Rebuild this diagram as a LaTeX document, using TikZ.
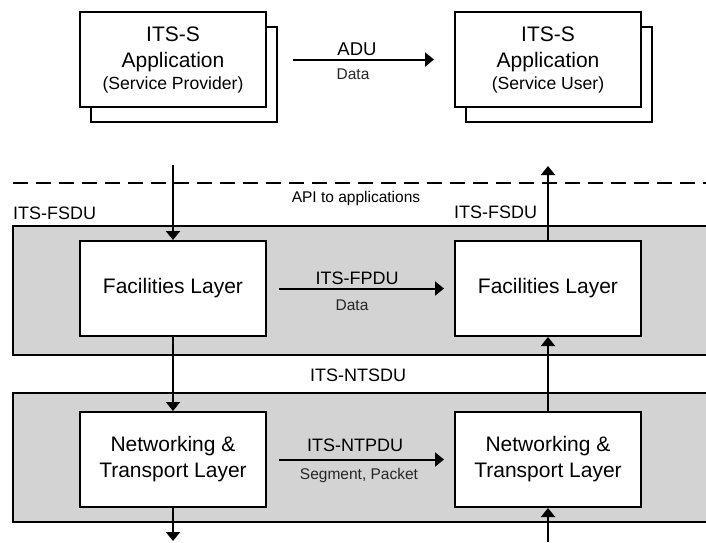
\documentclass[tikz,border=0pt]{standalone}
\usepackage{fontspec}
\setmainfont{Liberation Sans}
\usetikzlibrary{arrows.meta}
\definecolor{bandgray}{RGB}{211,211,211}
\tikzset{
  box/.style={draw, line width=2pt, fill=white, minimum width=186pt, minimum height=95pt, inner sep=0pt, align=center},
  band/.style={draw, line width=1.5pt, fill=bandgray},
  conn/.style={line width=2pt, -{Triangle[length=9pt,width=14pt]}},
  bigfont/.style={font=\fontsize{21}{26}\selectfont},
  lblfont/.style={font=\fontsize{18}{21}\selectfont, inner sep=0pt},
  smallfont/.style={font=\fontsize{15.5}{18}\selectfont, inner sep=0pt, text=black!85},
}
\begin{document}
\begin{tikzpicture}[x=1pt,y=-1pt]
\useasboundingbox (0,0) rectangle (706,542);
% gray bands
\path[band] (13,226) rectangle (716,355);
\path[band] (13,393) rectangle (716,522);
% dashed API line
\draw[line width=2pt, dash pattern=on 15pt off 8pt] (13,183) -- (706,183);
% application boxes
\node[box] (appLback) at (184,74.5) {};
\node[box, bigfont] (appL) at (173,59.5) {ITS-S\\Application\\[-4pt]{\fontsize{17.6}{21}\selectfont (Service Provider)}};
\node[box] (appRback) at (559,74.5) {};
\node[box, bigfont] (appR) at (548,59.5) {ITS-S\\Application\\[-4pt]{\fontsize{17.6}{21}\selectfont (Service User)}};
% layer boxes
\node[box, bigfont] (flL) at (173,288.5) {Facilities Layer};
\node[box, bigfont] (flR) at (548,288.5) {Facilities Layer};
\node[box, bigfont] (ntL) at (173,459.5) {Networking \&\\Transport Layer};
\node[box, bigfont] (ntR) at (548,459.5) {Networking \&\\Transport Layer};
% free ends
\coordinate (inL) at (173,165);
\coordinate (outR) at (548,166);
\coordinate (outL) at (173,541);
\coordinate (inR) at (548,542);
% horizontal connectors
\draw[conn, shorten <=26pt, shorten >=20pt] (appL) -- (appR);
\draw[conn, shorten <=12pt, shorten >=10pt] (flL) -- (flR);
\draw[conn, shorten <=12pt, shorten >=10pt] (ntL) -- (ntR);
% vertical connectors
\draw[conn] (inL) -- (flL.north);
\draw[conn] (flR.north) -- (outR);
\draw[conn] (flL.south) -- (ntL.north);
\draw[conn] (ntR.north) -- (flR.south);
\draw[conn] (ntL.south) -- (outL);
\draw[conn] (inR) -- (ntR.south);
% labels
\node[lblfont, font=\fontsize{18.5}{21}\selectfont] (adu) at (357,49) {ADU};
\node[smallfont] (adudata) at (353,74) {Data};
\node[lblfont] (fpdu) at (357,278) {ITS-FPDU};
\node[smallfont] (fpdudata) at (352,305) {Data};
\node[lblfont] (ntpdu) at (355,445) {ITS-NTPDU};
\node[smallfont] (ntpduseg) at (359,475) {Segment, Packet};
\node[lblfont, anchor=west] (fsduL) at (13,213) {ITS-FSDU};
\node[lblfont, anchor=west] (fsduR) at (454,212) {ITS-FSDU};
\node[smallfont, text=black] (api) at (356,198) {API to applications};
\node[lblfont] (ntsdu) at (358,375) {ITS-NTSDU};
\end{tikzpicture}
\end{document}
